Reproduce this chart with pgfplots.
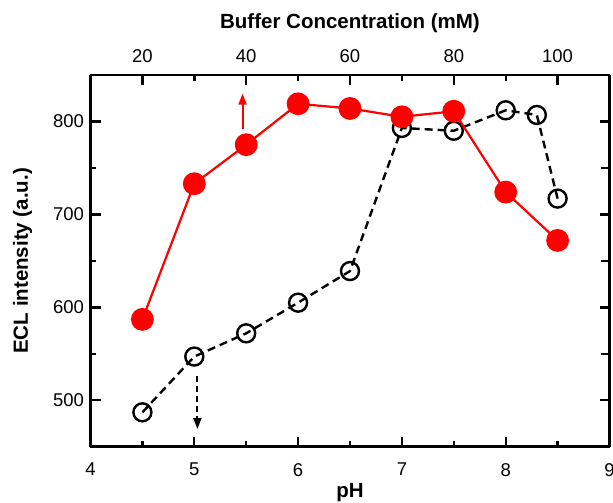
\documentclass[border=0pt]{standalone}
\usepackage{fontspec}
\setmainfont{Liberation Sans}
\usepackage{pgfplots}
\pgfplotsset{compat=1.18}
\usetikzlibrary{arrows.meta}
\definecolor{ptred}{RGB}{255,0,0}

\begin{document}
\begin{tikzpicture}
\useasboundingbox (-90.5pt,-56.3pt) rectangle ++(613pt,503pt);
\pgfplotsset{
  eclaxis/.style={
    width=519pt, height=371.7pt, scale only axis,
    ymin=450, ymax=850,
    line width=2.4pt,
    major tick length=10pt, minor tick length=6pt,
    tick style={black, line width=2.4pt},
    tick align=inside,
    tick label style={font=\fontsize{18.5}{18.5}\selectfont},
    label style={font=\bfseries\fontsize{20.5}{20.5}\selectfont},
    clip=false,
  },
  tk/.style={black, line width=2.4pt, forget plot, mark=none},
}
% pH axis (bottom) with the open-circle series
\begin{axis}[eclaxis,
  axis x line*=bottom, axis y line*=box,
  xmin=4, xmax=9,
  xtick={4,5,6,7,8,9}, xticklabels={4,5,6,7,8,9},
  minor xtick={4.5,5.5,6.5,7.5,8.5},
  ytick={500,600,700,800}, yticklabels={500,600,700,800},
  minor ytick={550,650,750},
  xlabel={pH}, ylabel={ECL intensity (a.u.)},
  xticklabel style={yshift=-12pt},
  yticklabel style={xshift=-2pt},
  xlabel style={yshift=1pt},
  ylabel style={yshift=13pt},
]
% tick marks (inward)
\pgfplotsinvokeforeach{5,6,7,8}{\addplot[tk] coordinates {(#1,450) (#1,460.8)};}
\pgfplotsinvokeforeach{4.5,5.5,6.5,7.5,8.5}{\addplot[tk] coordinates {(#1,450) (#1,456.5)};}
\pgfplotsinvokeforeach{500,600,700,800}{
  \addplot[tk] coordinates {(4,#1) (4.0963,#1)};
  \addplot[tk] coordinates {(9,#1) (8.9037,#1)};}
\pgfplotsinvokeforeach{550,650,750}{
  \addplot[tk] coordinates {(4,#1) (4.0578,#1)};
  \addplot[tk] coordinates {(9,#1) (8.9133,#1)};}
\addplot[black, line width=2.4pt, dash pattern=on 8pt off 5pt,
  mark=o, mark size=9pt, mark options={solid, fill=white, line width=2.4pt}]
  coordinates {
  (4.5,487) (5.0,547) (5.5,572) (6.0,605) (6.5,639)
  (7.0,793) (7.5,790) (8.0,812) (8.3,807) (8.5,717)
};
\addplot[black, line width=2pt, dash pattern=on 6pt off 4pt,
  -{Triangle[length=11pt,width=8pt]}]
  coordinates {(5.03,526) (5.03,469)};
\end{axis}
% buffer concentration axis (top) with the filled series
\begin{axis}[eclaxis,
  xmin=10, xmax=110,
  axis x line*=top, axis y line=none,
  xtick={20,40,60,80,100}, xticklabels={20,40,60,80,100},
  minor xtick={30,50,70,90},
  xlabel={Buffer Concentration (mM)},
  xticklabel style={yshift=8pt},
  xlabel style={yshift=9pt},
]
\pgfplotsinvokeforeach{20,40,60,80,100}{\addplot[tk] coordinates {(#1,850) (#1,839.2)};}
\pgfplotsinvokeforeach{30,50,70,90}{\addplot[tk] coordinates {(#1,850) (#1,843.5)};}
\addplot[ptred, line width=2.2pt, mark=*, mark size=10.3pt,
  mark options={fill=ptred, draw=ptred}]
  coordinates {
  (20,587) (30,733) (40,775) (50,819) (60,814)
  (70,805) (80,811) (90,724) (100,672)
};
\addplot[ptred, line width=2pt, -{Triangle[length=11pt,width=8pt]}]
  coordinates {(39.3,792) (39.3,830)};
\end{axis}
\end{tikzpicture}
\end{document}
